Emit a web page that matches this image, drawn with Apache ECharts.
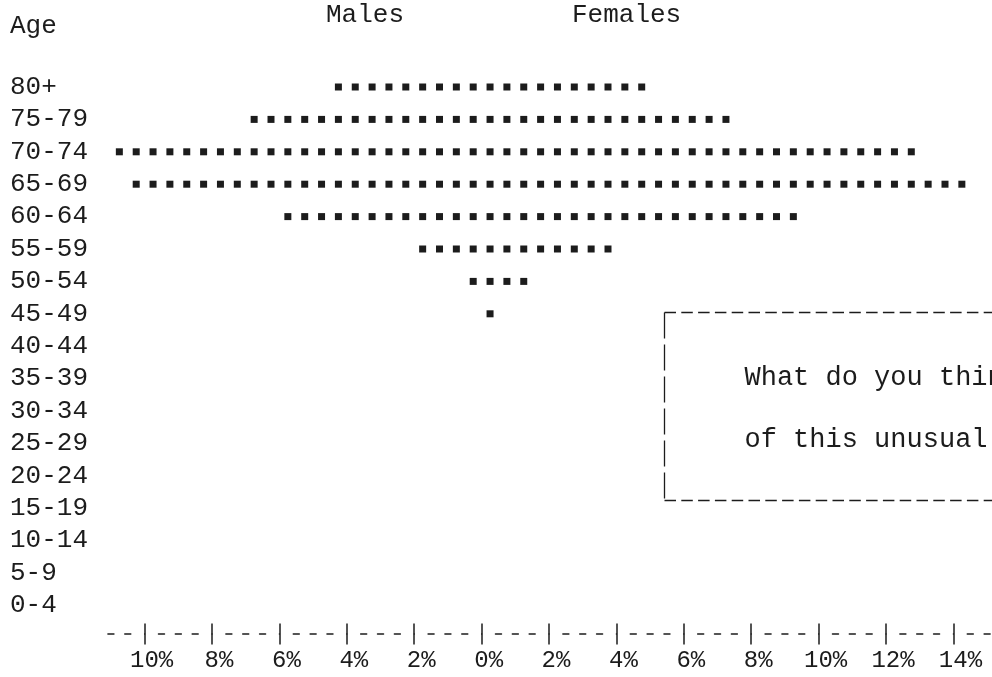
<!DOCTYPE html>
<html>
<head>
<meta charset="utf-8">
<title>Age pyramid</title>
<script src="https://cdn.jsdelivr.net/npm/echarts@6/dist/echarts.min.js"></script>
<style>
  html, body { margin: 0; padding: 0; background: #fff; }
  #chart { width: 992px; height: 677px; }
</style>
</head>
<body>
<div id="chart"></div>
<script>
// age groups, top row first
const ageGroups = ['80+', '75-79', '70-74', '65-69', '60-64', '55-59', '50-54', '45-49',
  '40-44', '35-39', '30-34', '25-29', '20-24', '15-19', '10-14', '5-9', '0-4']
// percent of population in each group, one printed mark = 0.5%
const males = [4.5, 7, 11, 10.5, 6, 2, 0.5, 0, 0, 0, 0, 0, 0, 0, 0, 0, 0]
const females = [5, 7.5, 13, 14.5, 9.5, 4, 1.5, 0.5, 0, 0, 0, 0, 0, 0, 0, 0, 0]
const tickValues = [-10, -8, -6, -4, -2, 0, 2, 4, 6, 8, 10, 12, 14]
const noteLines = ['What do you think', 'of this unusual']

const FONT = '"Liberation Mono", "DejaVu Sans Mono", monospace'
const INK = '#1c1c1c'
const WIDTH = 992
const PX_PER_PCT = 33.7
const GRID_LEFT = 102.5
const X_MIN = -11.25
// the printout runs off the right edge of the page
const X_MAX = X_MIN + (WIDTH - GRID_LEFT) / PX_PER_PCT
const GRID_TOP = 70.8
const ROW_H = 32.4

const chart = echarts.init(document.getElementById('chart'))

// one mark every half percent, square like a typed character.
// symbolBoundingData fixes the repeat unit to exactly 0.5% (10% = 20 marks)
const dots = {
  type: 'pictorialBar',
  symbol: 'rect',
  symbolSize: [7, 7],
  symbolRepeat: true,
  symbolMargin: '5!',
  barWidth: 7,
  barGap: '-100%',
  itemStyle: { color: INK },
  silent: true
}

// typed "--|---|---|" rule: three dashes between the pipes
const cell = PX_PER_PCT * 2 / 4
const rulerDash = [0, cell - 3, 6, cell - 6, 6, cell - 6, 6, cell - 3]

const textStyle = { fontFamily: FONT, fill: INK, fontSize: 26 }

chart.setOption({
  animation: false,
  backgroundColor: '#fff',
  grid: {
    left: GRID_LEFT,
    top: GRID_TOP,
    right: 0,
    height: ROW_H * ageGroups.length
  },
  xAxis: [
    {
      type: 'value',
      position: 'bottom',
      min: X_MIN,
      max: X_MAX,
      offset: 2,
      axisLine: { show: false },
      axisTick: {
        show: true,
        length: 21,
        customValues: tickValues,
        lineStyle: { color: INK, width: 1.5 }
      },
      axisLabel: {
        customValues: tickValues,
        formatter: (v) => Math.abs(v) + '%',
        fontFamily: FONT,
        fontSize: 24,
        color: INK,
        margin: 25,
        padding: [0, 0, 0, 14]
      },
      splitLine: { show: false }
    },
    {
      type: 'value',
      position: 'bottom',
      min: X_MIN,
      max: X_MAX,
      offset: 12,
      axisLine: {
        show: true,
        lineStyle: { color: INK, width: 1.5, type: rulerDash, dashOffset: (X_MIN + 12) * PX_PER_PCT }
      },
      axisTick: { show: false },
      axisLabel: { show: false },
      splitLine: { show: false }
    }
  ],
  yAxis: {
    type: 'category',
    data: ageGroups,
    inverse: true,
    axisLine: { show: false },
    axisTick: { show: false },
    axisLabel: {
      interval: 0,
      align: 'left',
      margin: GRID_LEFT - 10,
      fontFamily: FONT,
      fontSize: 26,
      color: INK
    }
  },
  series: [
    { ...dots, name: 'Males', symbolBoundingData: -10, data: males.map((v) => -v) },
    { ...dots, name: 'Females', symbolBoundingData: 10, data: females }
  ],
  graphic: [
    { type: 'text', left: 10, top: 13, style: { ...textStyle, text: 'Age' } },
    { type: 'text', left: 326, top: 2, style: { ...textStyle, text: 'Males' } },
    { type: 'text', left: 572, top: 2, style: { ...textStyle, text: 'Females' } },
    // dashed note box, cut off by the right edge like the scan
    {
      type: 'group',
      left: 662,
      top: 310,
      children: [
        { type: 'line', shape: { x1: 0, y1: 0, x2: 360, y2: 0 }, style: { stroke: INK, lineWidth: 1.3, lineDash: [11.5, 5.3] } },
        { type: 'line', shape: { x1: 0, y1: 188, x2: 360, y2: 188 }, style: { stroke: INK, lineWidth: 1.3, lineDash: [11.5, 5.3] } },
        { type: 'line', shape: { x1: 0, y1: 0, x2: 0, y2: 188 }, style: { stroke: INK, lineWidth: 1.3, lineDash: [26, 6] } },
        { type: 'text', x: 80, y: 52, style: { ...textStyle, fontSize: 27, text: noteLines[0] } },
        { type: 'text', x: 80, y: 114, style: { ...textStyle, fontSize: 27, text: noteLines[1] } }
      ]
    }
  ]
})

window.addEventListener('resize', () => chart.resize())
</script>
</body>
</html>
